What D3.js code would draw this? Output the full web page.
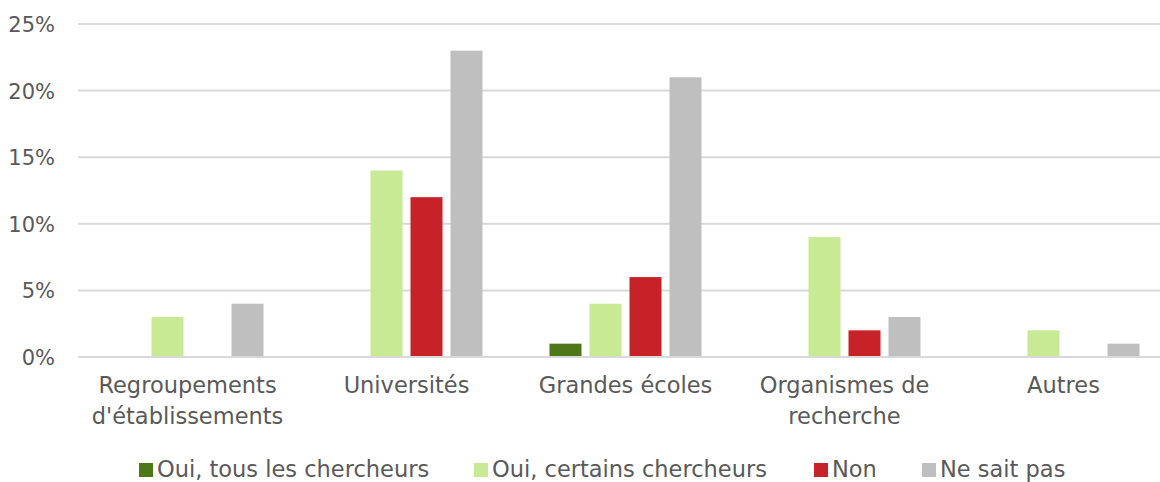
<!DOCTYPE html>
<html>
<head>
<meta charset="utf-8">
<script src="https://cdn.jsdelivr.net/npm/d3@7"></script>
<style>
  html, body { margin: 0; padding: 0; background: #fff; }
  svg { display: block; }
  text { font-family: "Century Gothic", "DejaVu Sans", sans-serif; fill: #595959; }
</style>
</head>
<body>
<svg id="chart" width="1160" height="482"></svg>
<script>
// Share of respondents by type of institution and answer
const categories = [["Regroupements", "d'établissements"], ["Universités"], ["Grandes écoles"], ["Organismes de", "recherche"], ["Autres"]];
const seriesNames = ["Oui, tous les chercheurs", "Oui, certains chercheurs", "Non", "Ne sait pas"];
const seriesColors = ["#4E7719", "#C8EA95", "#C72227", "#BFBFBF"];
const ouiTous    = [0, 0, 1, 0, 0];
const ouiCertains = [3, 14, 4, 9, 2];
const non        = [0, 12, 6, 2, 0];
const neSaitPas  = [4, 23, 21, 3, 1];
const yTicks = [0, 5, 10, 15, 20, 25];

const series = [ouiTous, ouiCertains, non, neSaitPas];
const catKeys = categories.map(c => c.join(" "));

const svg = d3.select("#chart");
const plotLeft = 78, plotRight = 1173, plotTop = 24, plotBottom = 357;

const x0 = d3.scaleBand().domain(catKeys).range([plotLeft, plotRight]);
const groupW = 152;
const x1 = d3.scaleBand().domain(seriesNames).range([0, groupW]).paddingInner(0.2).paddingOuter(0);
const y = d3.scaleLinear().domain([0, 25]).range([plotBottom, plotTop]);

// gridlines
svg.append("g")
  .selectAll("line")
  .data(yTicks)
  .join("line")
  .attr("x1", plotLeft).attr("x2", plotRight)
  .attr("y1", d => y(d)).attr("y2", d => y(d))
  .attr("stroke", "#D9D9D9").attr("stroke-width", 2);

// y tick labels
svg.append("g")
  .selectAll("text")
  .data(yTicks)
  .join("text")
  .attr("x", 55)
  .attr("y", d => y(d) + 8)
  .attr("text-anchor", "end")
  .style("font-size", "21px")
  .text(d => d + "%");

// bars
const groups = svg.append("g")
  .selectAll("g")
  .data(catKeys)
  .join("g")
  .attr("transform", d => `translate(${x0(d) + (x0.bandwidth() - groupW) / 2},0)`);

groups.selectAll("rect")
  .data((d, i) => seriesNames.map((s, j) => ({ s, v: series[j][i], c: seriesColors[j] })).filter(e => e.v > 0))
  .join("rect")
  .attr("x", d => x1(d.s))
  .attr("width", x1.bandwidth())
  .attr("y", d => y(d.v))
  .attr("height", d => y(0) - y(d.v))
  .attr("fill", d => d.c);

// baseline drawn over the bar feet
svg.append("line")
  .attr("x1", plotLeft).attr("x2", plotRight)
  .attr("y1", y(0)).attr("y2", y(0))
  .attr("stroke", "#D9D9D9").attr("stroke-width", 2);

// category labels
const catLabels = svg.append("g")
  .selectAll("text")
  .data(categories)
  .join("text")
  .attr("text-anchor", "middle")
  .style("font-size", "22.5px")
  .attr("transform", (d, i) => `translate(${x0(catKeys[i]) + x0.bandwidth() / 2},393)`);
catLabels.selectAll("tspan")
  .data(d => d)
  .join("tspan")
  .attr("x", 0)
  .attr("y", (d, i) => i * 31)
  .text(d => d);

// legend
const legendX = [139, 474, 814, 922];
const legend = svg.append("g")
  .selectAll("g")
  .data(seriesNames)
  .join("g")
  .attr("transform", (d, i) => `translate(${legendX[i]},0)`);
legend.append("rect")
  .attr("x", 0).attr("y", 463)
  .attr("width", 14).attr("height", 14)
  .attr("fill", (d, i) => seriesColors[i]);
legend.append("text")
  .attr("x", 18).attr("y", 477)
  .style("font-size", "22.5px")
  .text(d => d);
</script>
</body>
</html>
